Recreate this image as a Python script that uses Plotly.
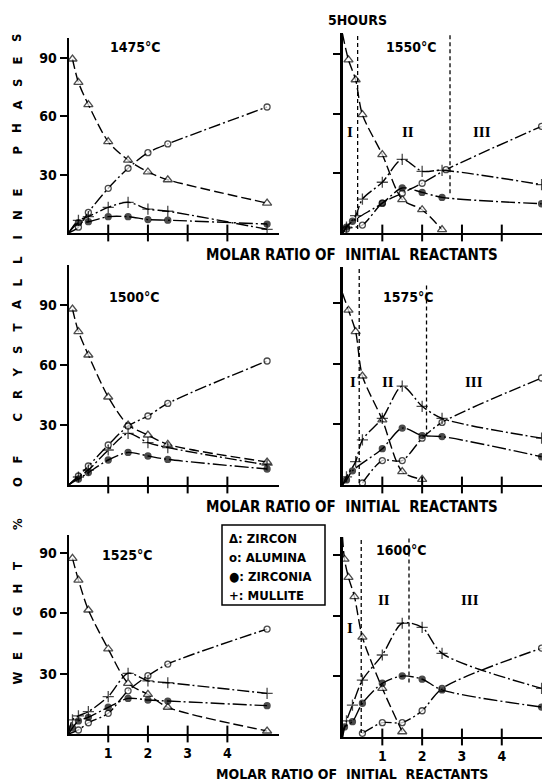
import plotly.graph_objects as go

W, H = 542, 784

# ---------------- DATA ----------------
# 1475 °C
zircon_1475_x = [0.1, 0.25, 0.5, 1, 1.5, 2, 2.5, 5]
zircon_1475_y = [89.5, 77.5, 66, 47, 37.5, 31.4, 27.4, 15.4]
alumina_1475_x = [0, 0.25, 0.5, 1, 1.5, 2, 2.5, 5]
alumina_1475_y = [0, 3, 10.6, 23, 33.3, 41.3, 45.8, 64.8]
zirconia_1475_x = [0, 0.25, 0.5, 1, 1.5, 2, 2.5, 5]
zirconia_1475_y = [0, 5.3, 5.8, 8.4, 8.4, 6.9, 6.6, 4.6]
mullite_1475_x = [0, 0.25, 0.5, 1, 1.5, 2, 2.5, 5]
mullite_1475_y = [0, 6.5, 8.4, 13.2, 15.8, 12.3, 11.2, 1.9]

# 1500 °C
zircon_1500_x = [0.1, 0.25, 0.5, 1, 1.5, 2, 2.5, 5]
zircon_1500_y = [88, 76.7, 65, 44, 30, 25, 20.3, 11.5]
alumina_1500_x = [0, 0.25, 0.5, 1, 1.5, 2, 2.5, 5]
alumina_1500_y = [0, 4.5, 9.5, 20, 29.5, 34.5, 40.8, 62]
zirconia_1500_x = [0, 0.25, 0.5, 1, 1.5, 2, 2.5, 5]
zirconia_1500_y = [0, 3, 6.2, 12.5, 16.3, 14.5, 12.8, 8]
mullite_1500_x = [0, 0.25, 0.5, 1, 1.5, 2, 2.5, 5]
mullite_1500_y = [0, 4, 7.5, 17.5, 25.8, 21.2, 18.7, 10]

# 1525 °C
zircon_1525_x = [0.1, 0.25, 0.5, 1, 1.5, 2, 2.5, 5]
zircon_1525_y = [87.4, 76.6, 61.7, 42.3, 25.2, 19.7, 13.3, 1.5]
alumina_1525_x = [0, 0.25, 0.5, 1, 1.5, 2, 2.5, 5]
alumina_1525_y = [0, 2, 5.6, 10.3, 21.5, 29, 34.8, 52.2]
zirconia_1525_x = [0, 0.1, 0.25, 0.5, 1, 1.5, 2, 2.5, 5]
zirconia_1525_y = [0, 3, 6.5, 8.3, 13.3, 17.7, 16.9, 16.4, 14.1]
mullite_1525_x = [0, 0.1, 0.25, 0.5, 1, 1.5, 2, 2.5, 5]
mullite_1525_y = [0, 7, 9, 11.1, 18.6, 30.2, 26.4, 25.5, 20.2]

# 1550 °C
zircon_1550_x = [0, 0.15, 0.33, 0.5, 1, 1.5, 2, 2.5]
zircon_1550_y = [100, 87, 77, 59.5, 39.4, 16.8, 11.7, 1.7]
alumina_1550_x = [0, 0.1, 0.5, 1, 1.5, 2, 2.6, 5]
alumina_1550_y = [0, 2, 4, 15, 20, 25, 31.8, 53.6]
zirconia_1550_x = [0, 0.1, 0.25, 1, 1.5, 2, 2.5, 5]
zirconia_1550_y = [0, 3, 5.9, 15, 22.6, 20.4, 17.9, 14.7]
mullite_1550_x = [0, 0.1, 0.33, 0.5, 1, 1.5, 2, 2.5, 5]
mullite_1550_y = [0, 3, 8.7, 17, 25.5, 37, 31, 31.5, 24.3]

# 1575 °C
zircon_1575_x = [0, 0.15, 0.33, 0.5, 1, 1.5, 2]
zircon_1575_y = [95, 86.6, 76, 54, 32.3, 6.6, 2.8]
alumina_1575_x = [0.5, 1, 1.5, 2, 2.5, 5]
alumina_1575_y = [1, 12.1, 12.1, 23.2, 31, 53]
zirconia_1575_x = [0, 0.1, 0.25, 1, 1.5, 2, 2.5, 5]
zirconia_1575_y = [0, 2.5, 7, 18, 28.2, 24.5, 24, 14]
mullite_1575_x = [0, 0.1, 0.33, 0.5, 1, 1.5, 2, 2.5, 5]
mullite_1575_y = [0, 4, 11.6, 22.4, 33, 49, 39, 33, 23.2]

# 1600 °C
zircon_1600_x = [0, 0.05, 0.15, 0.3, 0.5, 1, 1.5]
zircon_1600_y = [99, 88, 79, 69.5, 49.4, 24.1, 2.6]
alumina_1600_x = [0.5, 1, 1.5, 2, 2.5, 5]
alumina_1600_y = [1.8, 7.1, 7.1, 13, 24, 44]
zirconia_1600_x = [0, 0.05, 0.25, 0.5, 1, 1.5, 2, 2.5, 5]
zirconia_1600_y = [0, 5, 7.6, 16.7, 26.6, 30.2, 28.6, 23.3, 14.8]
mullite_1600_x = [0, 0.1, 0.25, 0.5, 1, 1.5, 2, 2.5, 5]
mullite_1600_y = [0, 8, 15.8, 28.2, 40.6, 56.3, 54.3, 41.4, 24.1]

# region boundaries (dashed verticals): x, top, bottom
bnd_1550_x = [0.38, 2.70]
bnd_1550_top = [100, 105]
bnd_1550_bot = [2, 20]
bnd_1575_x = [0.42, 2.11]
bnd_1575_top = [109, 100]
bnd_1575_bot = [1, 24]
bnd_1600_x = [0.47, 1.67]
bnd_1600_top = [101, 100]
bnd_1600_bot = [2, 27]

region_labels = ["I", "II", "III"]
reg_1550_x = [0.19, 1.65, 3.5]
reg_1550_y = [51, 51, 51]
reg_1575_x = [0.27, 1.15, 3.29]
reg_1575_y = [51, 51, 51]
reg_1600_x = [0.19, 1.03, 3.2]
reg_1600_y = [53.8, 67.8, 67.8]

x_ticks = [1, 2, 3, 4]
y_ticks = [30, 60, 90]
y_ticklabels = ["30", "60", "90"]

phases = ["ZIRCON", "ALUMINA", "ZIRCONIA", "MULLITE"]
legend_symbols = ["\u0394:", "o:", "\u25CF:", "+:"]

# ---------------- LAYOUT / STYLE ----------------
SANS = "Liberation Sans Narrow, DejaVu Sans Condensed, Liberation Sans, Arial"
SERIF = "Liberation Serif, DejaVu Serif, serif"


def fx(p):
    return p / W


def fy(p):
    return 1 - p / H


panels = [
    dict(t="1475", L=68.5, R=279, B=233, T=38, xmax=5.30, ymax=100.3, tl=(135, 47), labels=True, xlab=False,
         data=[(zircon_1475_x, zircon_1475_y), (alumina_1475_x, alumina_1475_y),
               (zirconia_1475_x, zirconia_1475_y), (mullite_1475_x, mullite_1475_y)]),
    dict(t="1500", L=68.5, R=279, B=485, T=265, xmax=5.30, ymax=110, tl=(134, 297), labels=True, xlab=False,
         data=[(zircon_1500_x, zircon_1500_y), (alumina_1500_x, alumina_1500_y),
               (zirconia_1500_x, zirconia_1500_y), (mullite_1500_x, mullite_1500_y)]),
    dict(t="1525", L=68.5, R=279, B=734, T=535, xmax=5.30, ymax=99, tl=(127, 555), labels=True, xlab=True,
         data=[(zircon_1525_x, zircon_1525_y), (alumina_1525_x, alumina_1525_y),
               (zirconia_1525_x, zirconia_1525_y), (mullite_1525_x, mullite_1525_y)]),
    dict(t="1550", L=342.5, R=542, B=233, T=33, xmax=5.01, ymax=100.5, tl=(411, 47), labels=False, xlab=False,
         bnd=(bnd_1550_x, bnd_1550_top, bnd_1550_bot), reg=(reg_1550_x, reg_1550_y),
         data=[(zircon_1550_x, zircon_1550_y), (alumina_1550_x, alumina_1550_y),
               (zirconia_1550_x, zirconia_1550_y), (mullite_1550_x, mullite_1550_y)]),
    dict(t="1575", L=342.5, R=542, B=485, T=267, xmax=5.01, ymax=108, tl=(408, 297), labels=False, xlab=False,
         bnd=(bnd_1575_x, bnd_1575_top, bnd_1575_bot), reg=(reg_1575_x, reg_1575_y),
         data=[(zircon_1575_x, zircon_1575_y), (alumina_1575_x, alumina_1575_y),
               (zirconia_1575_x, zirconia_1575_y), (mullite_1575_x, mullite_1575_y)]),
    dict(t="1600", L=342.5, R=542, B=737, T=537, xmax=5.01, ymax=99, tl=(401, 550), labels=False, xlab=True,
         bnd=(bnd_1600_x, bnd_1600_top, bnd_1600_bot), reg=(reg_1600_x, reg_1600_y),
         data=[(zircon_1600_x, zircon_1600_y), (alumina_1600_x, alumina_1600_y),
               (zirconia_1600_x, zirconia_1600_y), (mullite_1600_x, mullite_1600_y)]),
]

styles = [
    dict(symbol="triangle-up", size=8, color="white", dash="10px,4px"),
    dict(symbol="circle", size=6, color="white", dash="12px,3px,2px,3px"),
    dict(symbol="circle", size=6, color="black", dash="14px,3px,2px,3px"),
    dict(symbol="cross-thin", size=8, color="black", dash="12px,3px,2px,3px"),
]

fig = go.Figure()
annotations = []
shapes = []
layout = {}


def txt(x, y, text, size=14, family=SANS, weight="bold", **kw):
    d = dict(x=x, y=y, xref="paper", yref="paper", text=text, showarrow=False,
             xanchor="center", yanchor="middle",
             font=dict(family=family, size=size, color="black", weight=weight))
    d.update(kw)
    return d


for i, p in enumerate(panels, start=1):
    xa = "x" if i == 1 else f"x{i}"
    ya = "y" if i == 1 else f"y{i}"
    ywidth = 2 if p["labels"] else 3
    layout["xaxis" if i == 1 else f"xaxis{i}"] = dict(
        domain=[fx(p["L"]), fx(p["R"])], range=[0, p["xmax"]], anchor=ya,
        showline=True, linecolor="black", linewidth=1.5, showgrid=False, zeroline=False,
        tickvals=x_ticks, ticktext=[str(v) for v in x_ticks], showticklabels=p["xlab"],
        ticks="outside", ticklen=5, tickcolor="rgba(0,0,0,0)",
        tickfont=dict(family=SANS, size=14, color="black", weight="bold"),
    )
    layout["yaxis" if i == 1 else f"yaxis{i}"] = dict(
        domain=[fy(p["B"]), fy(p["T"])], range=[0, p["ymax"]], anchor=xa,
        showline=True, linecolor="black", linewidth=ywidth, showgrid=False, zeroline=False,
        tickvals=y_ticks, ticktext=y_ticklabels, showticklabels=p["labels"],
        ticks="outside", ticklen=7, tickwidth=1.5, tickcolor="black",
        tickfont=dict(family=SANS, size=14, color="black", weight="bold"),
    )
    for (xs, ys), st in zip(p["data"], styles):
        sizes = [0 if x == 0 else st["size"] for x in xs]
        fig.add_trace(go.Scatter(
            x=xs, y=ys, xaxis=xa, yaxis=ya, mode="lines+markers",
            line=dict(color="black", width=1.4, shape="spline", smoothing=0.8, dash=st["dash"]),
            marker=dict(symbol=st["symbol"], size=sizes, color=st["color"],
                        line=dict(color="black", width=1.3)),
            showlegend=False, hoverinfo="skip"))
    # crossing x ticks
    fig.add_trace(go.Scatter(
        x=x_ticks, y=[0] * len(x_ticks), xaxis=xa, yaxis=ya, mode="markers",
        marker=dict(symbol="line-ns", size=12, line=dict(color="black", width=2)),
        cliponaxis=False, showlegend=False, hoverinfo="skip"))
    if "bnd" in p:
        bx, bt, bb = p["bnd"]
        for x, t, b in zip(bx, bt, bb):
            fig.add_trace(go.Scatter(
                x=[x, x], y=[b, t], xaxis=xa, yaxis=ya, mode="lines",
                line=dict(color="black", width=1.3, dash="4px,3px"),
                cliponaxis=False, showlegend=False, hoverinfo="skip"))
        rx, ry = p["reg"]
        for lab, x, y in zip(region_labels, rx, ry):
            annotations.append(dict(x=x, y=y, xref=xa, yref=ya, text=lab, showarrow=False,
                                    xanchor="center", yanchor="middle",
                                    font=dict(family=SERIF, size=15, color="black", weight="bold")))
    annotations.append(txt(fx(p["tl"][0]), fy(p["tl"][1]), p["t"] + "°C"))

annotations.append(txt(fx(357), fy(20), "5HOURS"))

for yy, sz in [(255, 15), (507, 15), (774, 14)]:
    annotations.append(txt(fx(352), fy(yy), "MOLAR RATIO OF\u00a0 INITIAL\u00a0 REACTANTS", size=sz))

# y title, letter-spaced, written from the top down
ytitle = "WEIGHT % OF CRYSTALLINE PHASES"
pos = 38
for ch in reversed(ytitle):
    if ch == " ":
        pos += 19.5
        continue
    annotations.append(txt(fx(17), fy(pos), ch, size=13, textangle=-90))
    pos += 22.5

shapes.append(dict(type="rect", xref="paper", yref="paper", x0=fx(222), x1=fx(325),
                   y0=fy(605), y1=fy(525), line=dict(color="black", width=1.5), fillcolor="white"))
for k, (sym, name) in enumerate(zip(legend_symbols, phases)):
    annotations.append(txt(fx(227), fy(538 + 19 * k), sym + " " + name, size=13, xanchor="left"))

fig.update_layout(
    width=W, height=H, autosize=False,
    margin=dict(l=0, r=0, t=0, b=0),
    paper_bgcolor="white", plot_bgcolor="white",
    showlegend=False, annotations=annotations, shapes=shapes,
    **layout,
)

fig.write_html("out.html", config={"displayModeBar": False},
               post_script="document.body.style.margin='0px';document.body.style.overflow='hidden';")
